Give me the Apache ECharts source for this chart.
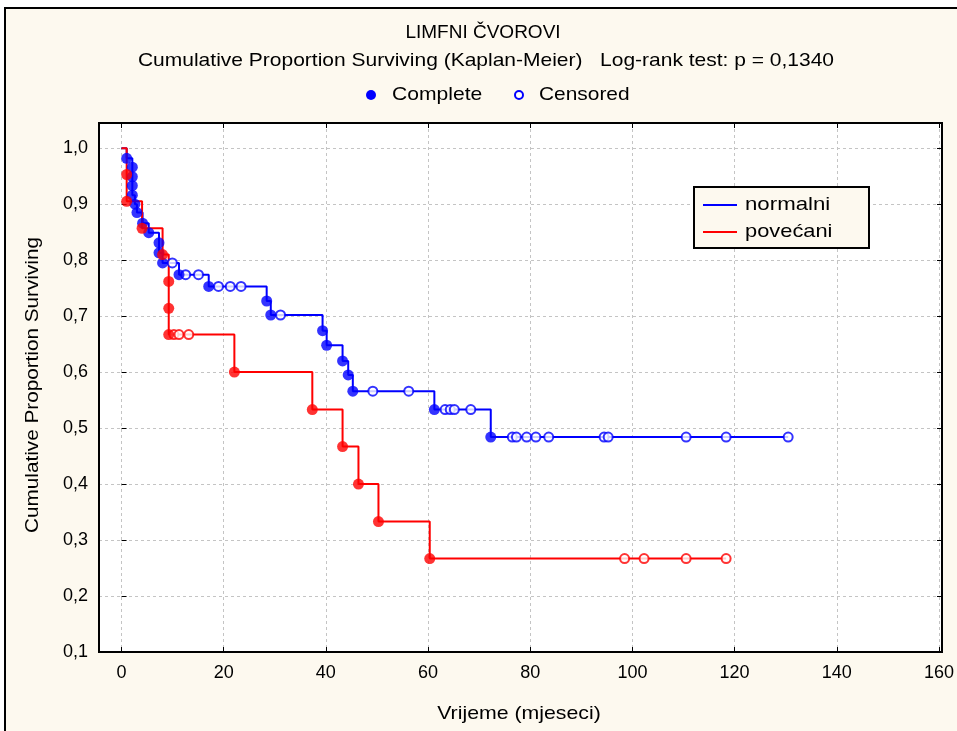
<!DOCTYPE html>
<html>
<head>
<meta charset="utf-8">
<script src="https://cdn.jsdelivr.net/npm/echarts@6/dist/echarts.min.js"></script>
<style>
html,body{margin:0;padding:0;background:#ffffff;overflow:hidden;}
#frame{position:absolute;left:4px;top:7px;width:1000px;height:800px;border:2px solid #000;background:#fdf9ef;}
#c{position:absolute;left:0;top:0;width:957px;height:731px;}
</style>
</head>
<body>
<div id="frame"></div>
<div id="c"></div>
<script>
// ---- data ----
const titleText = 'LIMFNI ČVOROVI';
const subtitleText = 'Cumulative Proportion Surviving (Kaplan-Meier)   Log-rank test: p = 0,1340';
const xAxisName = 'Vrijeme (mjeseci)';
const yAxisName = 'Cumulative Proportion Surviving';
const groupNames = ['normalni', 'povećani'];
const markerNames = ['Complete', 'Censored'];

const xTickValues = [0, 20, 40, 60, 80, 100, 120, 140, 160];
const xTickLabels = ['0', '20', '40', '60', '80', '100', '120', '140', '160'];
const yTickValues = [0.1, 0.2, 0.3, 0.4, 0.5, 0.6, 0.7, 0.8, 0.9, 1.0];
const yTickLabels = ['0,1', '0,2', '0,3', '0,4', '0,5', '0,6', '0,7', '0,8', '0,9', '1,0'];

// normalni (blue): event (complete) times and survival after each event
const blueEventTimes = [1.0, 2.1, 2.1, 2.1, 2.1, 2.6, 3.0, 4.1, 5.3, 7.3, 7.3, 8.0, 11.2, 17.0, 28.3, 29.1, 39.2, 40.0, 43.1, 44.2, 45.1, 61.0, 72.0];
const blueEventSurv  = [0.982, 0.966, 0.949, 0.933, 0.916, 0.900, 0.885, 0.866, 0.849, 0.831, 0.813, 0.795, 0.774, 0.753, 0.727, 0.702, 0.674, 0.648, 0.620, 0.595, 0.566, 0.533, 0.484];
const blueCensorTimes = [9.9, 12.5, 15.0, 18.9, 21.2, 23.3, 31.0, 49.0, 56.0, 63.1, 64.1, 64.9, 68.1, 76.2, 77.0, 79.0, 80.8, 83.3, 94.1, 94.9, 110.1, 117.9, 130.0];

// povećani (red)
const redEventTimes = [1.0, 1.0, 4.0, 8.0, 9.2, 9.2, 9.2, 22.0, 37.2, 43.1, 46.2, 50.1, 60.1];
const redEventSurv  = [0.953, 0.905, 0.857, 0.810, 0.762, 0.714, 0.667, 0.600, 0.533, 0.467, 0.400, 0.333, 0.267];
const redCensorTimes = [10.2, 11.2, 13.1, 98.1, 101.9, 110.1, 117.9];

// ---- helpers ----
function stepPath(evT, evS, endT) {
  const pts = [[0, 1]];
  let s = 1;
  for (let i = 0; i < evT.length; i++) {
    pts.push([evT[i], s]);
    pts.push([evT[i], evS[i]]);
    s = evS[i];
  }
  pts.push([endT, s]);
  return pts;
}
function levelAt(t, evT, evS) {
  let s = 1;
  for (let i = 0; i < evT.length; i++) if (evT[i] <= t) s = evS[i];
  return s;
}
const BLUE = '#0000ff', RED = '#ff0000';
const FONT = '"Liberation Sans", Arial, sans-serif';

const blueLine = stepPath(blueEventTimes, blueEventSurv, Math.max(...blueCensorTimes));
const redLine = stepPath(redEventTimes, redEventSurv, Math.max(...redCensorTimes));
const blueComplete = blueEventTimes.map((t, i) => [t, blueEventSurv[i]]);
const redComplete = redEventTimes.map((t, i) => [t, redEventSurv[i]]);
const blueCensored = blueCensorTimes.map(t => [t, levelAt(t, blueEventTimes, blueEventSurv)]);
const redCensored = redCensorTimes.map(t => [t, levelAt(t, redEventTimes, redEventSurv)]);

function yLabel(v) {
  const idx = yTickValues.findIndex(y => Math.abs(y - v) < 1e-6);
  return idx >= 0 ? yTickLabels[idx] : '';
}
function xLabel(v) {
  const idx = xTickValues.findIndex(x => Math.abs(x - v) < 1e-6);
  return idx >= 0 ? xTickLabels[idx] : '';
}

// plot box in pixels
const PL = 99, PT = 123, PR = 942, PB = 652;
const X0PX = 121.5; // pixel of x = 0

const chart = echarts.init(document.getElementById('c'), null, {renderer: 'canvas'});
const gridLine = {show: true, lineStyle: {color: '#c4c4c4', width: 1, type: [3, 3]}};
const tick = {show: true, inside: true, length: 5, lineStyle: {color: '#000', width: 1}};

function txt(text, x, y, align, scaleX, extra) {
  return Object.assign({type: 'text', z: 60, x: x, y: y, scaleX: scaleX || 1,
    style: {text: text, font: '19px ' + FONT, fill: '#000',
      align: align, textAlign: align, verticalAlign: 'middle', textVerticalAlign: 'middle'}}, extra || {});
}

const option = {
  backgroundColor: 'transparent',
  animation: false,
  grid: [
    {left: PL, top: PT, width: PR - PL, height: PB - PT, show: true, backgroundColor: '#ffffff', borderWidth: 0},
    {left: X0PX, top: PT, width: PR - X0PX, height: PB - PT, show: false}
  ],
  xAxis: [
    {gridIndex: 0, type: 'value', min: -4.4, max: 160, show: false},
    {gridIndex: 1, type: 'value', min: 0, max: 160, interval: 20, position: 'bottom',
      axisLine: {show: false}, axisTick: tick, splitLine: gridLine,
      axisLabel: {show: true, formatter: xLabel, color: '#000', fontSize: 18, fontFamily: FONT, margin: 12}},
    {gridIndex: 1, type: 'value', min: 0, max: 160, interval: 20, position: 'top',
      axisLine: {show: false}, axisTick: tick, splitLine: {show: false}, axisLabel: {show: false}}
  ],
  yAxis: [
    {gridIndex: 0, type: 'value', min: 0.1, max: 1.045, interval: 0.1, position: 'left',
      axisLine: {show: false}, axisTick: tick, splitLine: gridLine,
      axisLabel: {show: true, formatter: yLabel, color: '#000', fontSize: 18, fontFamily: FONT, margin: 11}},
    {gridIndex: 1, type: 'value', min: 0.1, max: 1.045, show: false},
    {gridIndex: 0, type: 'value', min: 0.1, max: 1.045, interval: 0.1, position: 'right',
      axisLine: {show: false}, axisTick: tick, splitLine: {show: false}, axisLabel: {show: false}}
  ],
  series: [
    {name: groupNames[0], type: 'line', xAxisIndex: 0, yAxisIndex: 0, data: blueLine, symbol: 'none',
      lineStyle: {color: BLUE, width: 2}, z: 3},
    {name: groupNames[1], type: 'line', xAxisIndex: 0, yAxisIndex: 0, data: redLine, symbol: 'none',
      lineStyle: {color: RED, width: 2}, z: 3},
    {name: groupNames[0] + ' ' + markerNames[0], type: 'scatter', xAxisIndex: 0, yAxisIndex: 0, data: blueComplete,
      symbol: 'circle', symbolSize: 11, itemStyle: {color: BLUE}, z: 5},
    {name: groupNames[0] + ' ' + markerNames[1], type: 'scatter', xAxisIndex: 0, yAxisIndex: 0, data: blueCensored,
      symbol: 'circle', symbolSize: 9, itemStyle: {color: '#ffffff', borderColor: BLUE, borderWidth: 2}, z: 4},
    {name: groupNames[1] + ' ' + markerNames[0], type: 'scatter', xAxisIndex: 0, yAxisIndex: 0, data: redComplete,
      symbol: 'circle', symbolSize: 11, itemStyle: {color: RED}, z: 6},
    {name: groupNames[1] + ' ' + markerNames[1], type: 'scatter', xAxisIndex: 0, yAxisIndex: 0, data: redCensored,
      symbol: 'circle', symbolSize: 9, itemStyle: {color: '#ffffff', borderColor: RED, borderWidth: 2}, z: 5}
  ],
  graphic: [
    // plot border
    {type: 'rect', z: 50, silent: true, shape: {x: PL, y: PT, width: PR - PL, height: PB - PT},
      style: {fill: null, stroke: '#000', lineWidth: 2}},
    // titles
    txt(titleText, 483, 33, 'center', 1.0),
    txt(subtitleText, 486, 61, 'center', 1.105),
    // marker legend
    {type: 'circle', z: 60, shape: {cx: 371, cy: 95, r: 5}, style: {fill: BLUE}},
    txt(markerNames[0], 392, 95, 'left', 1.11),
    {type: 'circle', z: 60, shape: {cx: 519, cy: 95, r: 4}, style: {fill: '#fff', stroke: BLUE, lineWidth: 2}},
    txt(markerNames[1], 539, 95, 'left', 1.1),
    // axis names
    txt(xAxisName, 519, 714, 'center', 1.12),
    txt(yAxisName, 33, 385, 'center', 1.09, {rotation: Math.PI / 2}),
    // series legend box
    {type: 'rect', z: 70, shape: {x: 694, y: 187, width: 175, height: 61},
      style: {fill: '#fdf9ef', stroke: '#000', lineWidth: 2}},
    {type: 'line', z: 71, shape: {x1: 703, y1: 205, x2: 737, y2: 205}, style: {stroke: BLUE, lineWidth: 2}},
    {type: 'line', z: 71, shape: {x1: 703, y1: 232, x2: 737, y2: 232}, style: {stroke: RED, lineWidth: 2}},
    txt(groupNames[0], 745, 205, 'left', 1.17, {z: 71}),
    txt(groupNames[1], 745, 232, 'left', 1.15, {z: 71})
  ]
};
chart.setOption(option);
</script>
</body>
</html>
